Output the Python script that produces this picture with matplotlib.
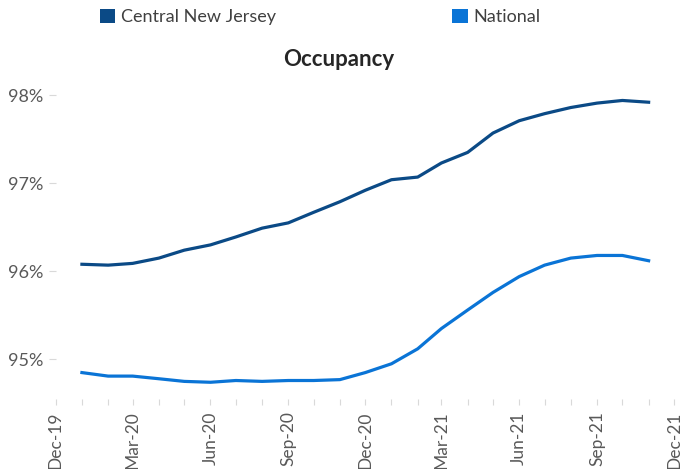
import matplotlib
matplotlib.use("Agg")
import matplotlib.pyplot as plt
import matplotlib.dates as mdates
from matplotlib.patches import Patch
from matplotlib.ticker import FuncFormatter, MultipleLocator
import pandas as pd

plt.rcParams['font.family'] = ['Lato', 'DejaVu Sans']

months = pd.date_range("2020-01-01", "2021-11-01", freq="MS")
central_nj = [96.08, 96.07, 96.09, 96.15, 96.24, 96.30, 96.39, 96.49, 96.55, 96.67, 96.79, 96.92,
              97.04, 97.07, 97.23, 97.35, 97.57, 97.71, 97.79, 97.86, 97.91, 97.94, 97.92]
national = [94.85, 94.81, 94.81, 94.78, 94.75, 94.74, 94.76, 94.75, 94.76, 94.76, 94.77, 94.85,
            94.95, 95.12, 95.35, 95.56, 95.76, 95.94, 96.07, 96.15, 96.18, 96.18, 96.12]
series_names = ["Central New Jersey", "National"]
series_colors = ["#0B4A86", "#0A74D6"]
title = "Occupancy"

W, H = 683, 469
fig = plt.figure(figsize=(W / 100, H / 100), dpi=100)
left = 55.7 / W
right = 674.0 / W
bottom = (H - 399) / H
top = 1 - 67.0 / H
ax = fig.add_axes([left, bottom, right - left, top - bottom])

ax.plot(months, central_nj, color=series_colors[0], lw=2.3, solid_joinstyle='round')
ax.plot(months, national, color=series_colors[1], lw=2.3, solid_joinstyle='round')

ax.set_xlim(pd.Timestamp("2019-12-01"), pd.Timestamp("2021-12-01"))
ax.set_ylim(94.55, 98.32)

for s in ax.spines.values():
    s.set_visible(False)

ax.xaxis.set_major_locator(mdates.MonthLocator(bymonth=[3, 6, 9, 12]))
ax.xaxis.set_minor_locator(mdates.MonthLocator())
ax.xaxis.set_major_formatter(mdates.DateFormatter("%b-%y"))
ax.yaxis.set_major_locator(MultipleLocator(1))
ax.yaxis.set_major_formatter(FuncFormatter(lambda v, p: f"{v:.0f}%"))

ax.tick_params(axis='x', which='both', length=4, color='#D9D9D9', width=0.8,
               labelsize=12.5, labelcolor='#595959', pad=5, labelrotation=90)
ax.tick_params(axis='y', which='major', length=5, color='#D9D9D9', width=0.8,
               labelsize=13, labelcolor='#595959', pad=4)

fig.text(339 / W, 1 - 60 / H, title, ha='center', va='center', fontsize=16,
         fontweight='bold', color='#262626')

handles = [Patch(facecolor=c, edgecolor='none') for c in series_colors]
fig.legend(handles, series_names, loc='center', bbox_to_anchor=(0.4686, 1 - 17 / H),
           ncol=2, frameon=False, fontsize=13, handlelength=0.85, handleheight=0.85,
           handletextpad=0.3, columnspacing=9.8, labelcolor='#404040', borderpad=0)

fig.savefig("out.png", dpi=100)
